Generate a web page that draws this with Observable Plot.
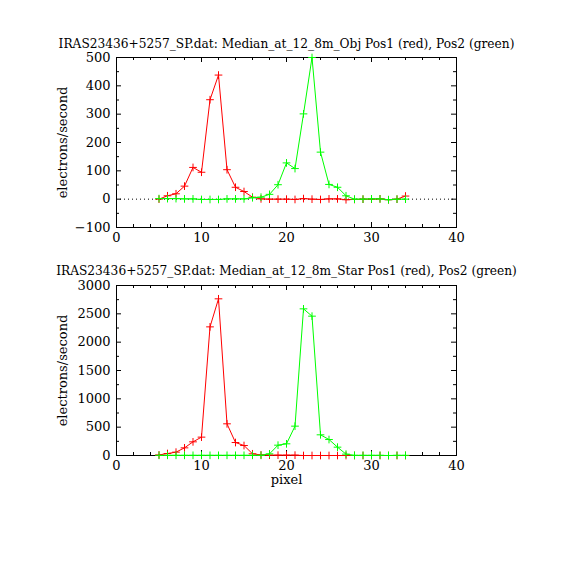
<!DOCTYPE html>
<html>
<head>
<meta charset="utf-8">
<script src="https://cdn.jsdelivr.net/npm/d3@7"></script>
<script src="https://cdn.jsdelivr.net/npm/@observablehq/plot@0.6"></script>
<style>
  body { margin: 0; background: white; }
  #chart svg { display: block; }
</style>
</head>
<body>
<div id="chart"></div>
<script>
// ---- data ----
const pixels = [5,6,7,8,9,10,11,12,13,14,15,16,17,18,19,20,21,22,23,24,25,26,27,28,29,30,31,32,33,34];

const objRed   = [0,12,19,46,112,95,351,438,104,42,27,7,1,0,0,0,-1,2,0,-1,1,1,-2,-1,0,0,1,-2,0,11];
const objGreen = [2,2,2,1,1,-1,-1,-1,1,1,1,5,7,17,51,128,108,301,500,166,52,42,12,0,0,1,1,-2,0,0];

const starRed   = [10,35,59,135,241,324,2270,2765,559,229,176,30,10,6,6,6,6,0,0,0,0,0,0,0,0,0,0,0,0,0];
const starGreen = [3,3,3,3,3,3,3,3,3,3,3,3,3,29,182,206,518,2588,2459,365,282,147,24,3,3,3,3,0,3,3];

const titleObj  = "IRAS23436+5257_SP.dat: Median_at_12_8m_Obj Pos1 (red), Pos2 (green)";
const titleStar = "IRAS23436+5257_SP.dat: Median_at_12_8m_Star Pos1 (red), Pos2 (green)";
const yLabel = "electrons/second";
const xLabel = "pixel";

const xMajor = [0,10,20,30,40];
const xMinor = [2,4,6,8,12,14,16,18,22,24,26,28,32,34,36,38];
const objYMajor = [-100,0,100,200,300,400,500];
const objYMinor = [-50,50,150,250,350,450];
const starYMajor = [0,500,1000,1500,2000,2500,3000];
const starYMinor = [250,750,1250,1750,2250,2750];

// ---- layout ----
const W = 570, ML = 116, MR = 114, PH = 170, PW = W - ML - MR;
const fmt = d3.format("d");

function rows(ys) { return pixels.map((p, i) => ({x: p, y: ys[i]})); }

function panel({red, green, yDomain, yMajor, yMinor, title, height, marginTop, marginBottom, zeroLine, xlab, titleDy}) {
  const marks = [
    Plot.frame({stroke: "black"}),
    // inward tick marks on all four sides
    Plot.ruleX(xMajor, {insetTop: PH - 5, stroke: "black"}),
    Plot.ruleX(xMajor, {insetBottom: PH - 5, stroke: "black"}),
    Plot.ruleX(xMinor, {insetTop: PH - 3, stroke: "black"}),
    Plot.ruleX(xMinor, {insetBottom: PH - 3, stroke: "black"}),
    Plot.ruleY(yMajor, {insetRight: PW - 5, stroke: "black"}),
    Plot.ruleY(yMajor, {insetLeft: PW - 5, stroke: "black"}),
    Plot.ruleY(yMinor, {insetRight: PW - 3, stroke: "black"}),
    Plot.ruleY(yMinor, {insetLeft: PW - 3, stroke: "black"}),
    Plot.axisX(xMajor, {tickSize: 0, tickPadding: 5, fontSize: 13, label: null, tickFormat: fmt}),
    Plot.axisY(yMajor, {tickSize: 0, tickPadding: 6, fontSize: 13, label: null, tickFormat: fmt}),
  ];
  if (zeroLine) marks.push(Plot.ruleY([0], {stroke: "black", strokeDasharray: "1,3"}));
  marks.push(
    Plot.line(rows(red), {x: "x", y: "y", stroke: "#ff0000", strokeWidth: 1}),
    Plot.dot(rows(red), {x: "x", y: "y", symbol: "plus", r: 2.6, stroke: "#ff0000", strokeWidth: 1}),
    Plot.line(rows(green), {x: "x", y: "y", stroke: "#00ff00", strokeWidth: 1}),
    Plot.dot(rows(green), {x: "x", y: "y", symbol: "plus", r: 2.6, stroke: "#00ff00", strokeWidth: 1}),
    Plot.text([title], {frameAnchor: "top", dy: titleDy, fontSize: 12.2, textAnchor: "middle"}),
    Plot.text([yLabel], {frameAnchor: "left", dx: -54, rotate: -90, fontSize: 13, textAnchor: "middle"})
  );
  if (xlab) marks.push(Plot.text([xlab], {frameAnchor: "bottom", dy: 28, fontSize: 13}));
  return Plot.plot({
    width: W, height,
    marginLeft: ML, marginRight: MR, marginTop, marginBottom,
    style: {fontFamily: "'DejaVu Serif', serif", fontSize: "13px", background: "white", color: "black"},
    x: {domain: [0, 40]},
    y: {domain: yDomain},
    marks
  });
}

const chart = document.getElementById("chart");
chart.appendChild(panel({
  red: objRed, green: objGreen, yDomain: [-100, 500], yMajor: objYMajor, yMinor: objYMinor,
  title: titleObj, height: 250, marginTop: 57, marginBottom: 23, zeroLine: true, xlab: null, titleDy: -18
}));
chart.appendChild(panel({
  red: starRed, green: starGreen, yDomain: [0, 3000], yMajor: starYMajor, yMinor: starYMinor,
  title: titleStar, height: 320, marginTop: 35, marginBottom: 115, zeroLine: false, xlab: xLabel, titleDy: -19
}));
</script>
</body>
</html>
